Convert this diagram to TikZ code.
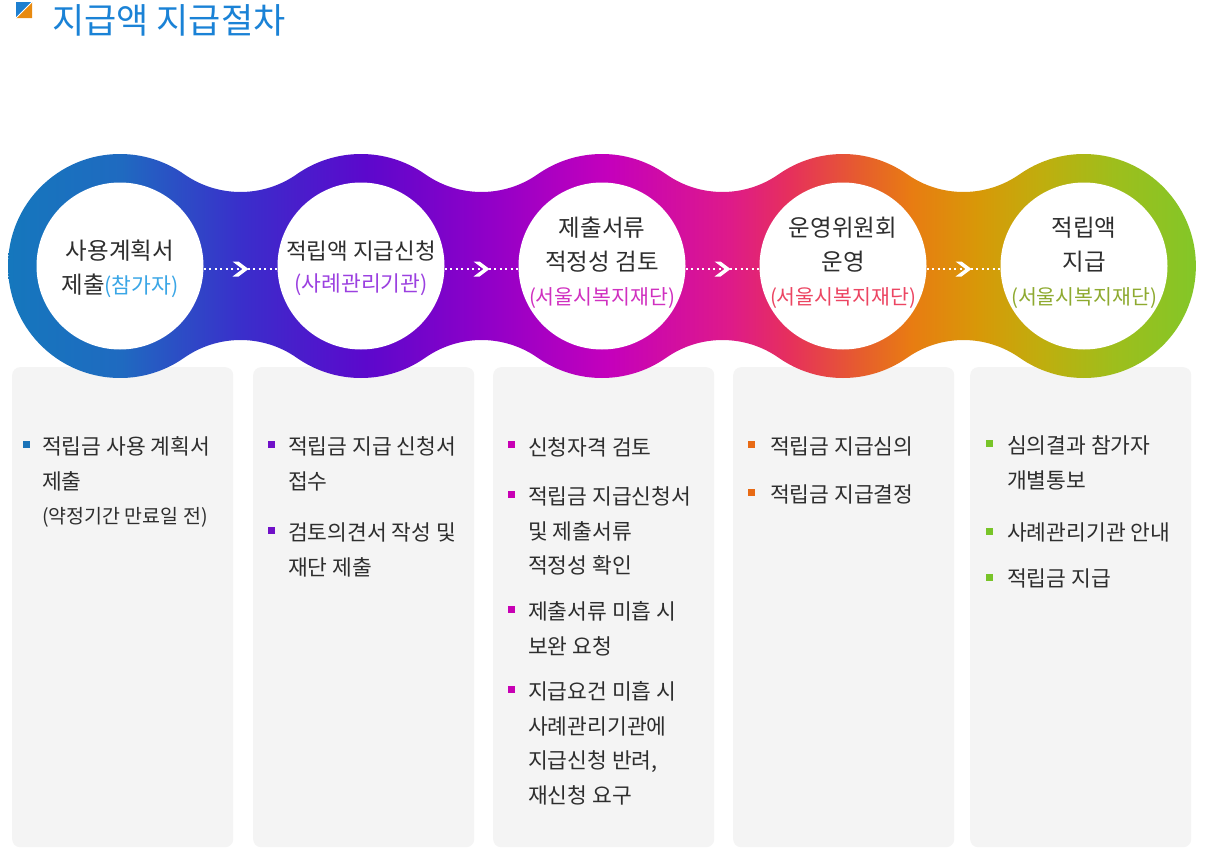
\documentclass[tikz,border=0pt]{standalone}
\usepackage{fontspec}
\newfontfamily\kr{Noto Sans CJK KR}
\definecolor{titleblue}{HTML}{1A82D6}
\definecolor{iconblue}{HTML}{1E7FD0}
\definecolor{iconorange}{HTML}{E88A10}
\definecolor{panelgray}{HTML}{F4F4F4}
\definecolor{txt}{HTML}{2E2E2E}
\definecolor{g0}{HTML}{1577BD}
\definecolor{g1}{HTML}{1F6AC0}
\definecolor{g2}{HTML}{3A2ECB}
\definecolor{g3}{HTML}{5C08CC}
\definecolor{g4}{HTML}{9000C8}
\definecolor{g5}{HTML}{C400BC}
\definecolor{g6}{HTML}{DE1A8A}
\definecolor{g7}{HTML}{E6305C}
\definecolor{g8}{HTML}{E65A30}
\definecolor{g9}{HTML}{E87C12}
\definecolor{g10}{HTML}{D89808}
\definecolor{g11}{HTML}{BFAE0E}
\definecolor{g12}{HTML}{9EBE1C}
\definecolor{g13}{HTML}{7EC82A}
\definecolor{par1}{HTML}{3AA6E6}
\definecolor{par2}{HTML}{9B40E0}
\definecolor{par3}{HTML}{D030C0}
\definecolor{par4}{HTML}{EC4562}
\definecolor{par5}{HTML}{8EAA30}
\definecolor{bul1}{HTML}{1A73B8}
\definecolor{bul2}{HTML}{7010C8}
\definecolor{bul3}{HTML}{C800B4}
\definecolor{bul4}{HTML}{E86A14}
\definecolor{bul5}{HTML}{78C428}
\pgfdeclarehorizontalshading{bandshade}{100bp}{color(0bp)=(g0); color(25bp)=(g0); color(29.7bp)=(g1); color(34.76bp)=(g2); color(39.9bp)=(g3); color(44.87bp)=(g4); color(49.92bp)=(g5); color(54.97bp)=(g6); color(57.5bp)=(g7); color(60.23bp)=(g8); color(62.54bp)=(g9); color(65.28bp)=(g10); color(68bp)=(g11); color(70.96bp)=(g12); color(75bp)=(g13); color(100bp)=(g13)}
\begin{document}
\begin{tikzpicture}[x=1pt,y=1pt,
  panel/.style={fill=panelgray, rounded corners=8pt, minimum width=221pt, minimum height=480pt, anchor=north west, inner sep=0pt},
  innercirc/.style={circle, fill=white, minimum size=167pt, inner sep=0pt},
  ctext/.style={align=center, text=txt, inner sep=0pt, font=\kr\fontsize{23.5}{34}\selectfont},
  dotline/.style={white, line width=2pt, dash pattern=on 2pt off 3.5pt},
  chev/.style={fill=white},
  bulletsq/.style={minimum size=7pt, inner sep=0pt},
  ptext/.style={align=left, anchor=base west, text=txt, inner sep=0pt, font=\kr\fontsize{21.5}{34.5}\selectfont}
]
\useasboundingbox (0,0) rectangle (1216,-854);
\fill[white] (0,0) rectangle (1216,-854);
% title
\fill[iconblue] (16,-2) -- (32,-2) -- (16,-18) -- cycle;
\fill[iconorange] (32,-2) -- (32,-18) -- (16,-18) -- cycle;
\draw[white, line width=1pt] (16,-18) -- (32,-2);
\node[anchor=west, inner sep=0pt, text=titleblue, font=\kr\fontsize{35}{35}\selectfont] (title) at (52,-20) {지급액 지급절차};
% panels
\node[panel] (p1) at (12,-367) {};
\node[panel] (p2) at (253,-367) {};
\node[panel] (p3) at (493,-367) {};
\node[panel] (p4) at (733,-367) {};
\node[panel] (p5) at (970,-367) {};
% gradient band
\shade[shading=bandshade] (8,-266)
  arc[start angle=180,end angle=55,radius=112]
  arc[start angle=235,end angle=305,radius=98.06]
  arc[start angle=125,end angle=55,radius=112]
  arc[start angle=235,end angle=305,radius=98.06]
  arc[start angle=125,end angle=55,radius=112]
  arc[start angle=235,end angle=305,radius=98.06]
  arc[start angle=125,end angle=55,radius=112]
  arc[start angle=235,end angle=305,radius=98.06]
  arc[start angle=125,end angle=-125,radius=112]
  arc[start angle=55,end angle=125,radius=98.06]
  arc[start angle=-55,end angle=-125,radius=112]
  arc[start angle=55,end angle=125,radius=98.06]
  arc[start angle=-55,end angle=-125,radius=112]
  arc[start angle=55,end angle=125,radius=98.06]
  arc[start angle=-55,end angle=-125,radius=112]
  arc[start angle=55,end angle=125,radius=98.06]
  arc[start angle=-55,end angle=-180,radius=112] -- cycle;
% inner circles
\node[innercirc] (c1) at (120,-266) {};
\node[innercirc] (c2) at (361,-266) {};
\node[innercirc] (c3) at (602,-266) {};
\node[innercirc] (c4) at (843,-266) {};
\node[innercirc] (c5) at (1084,-266) {};
% connectors
\draw[dotline] ([yshift=-3pt]c1.east) -- ([yshift=-3pt]c2.west) coordinate[midway] (m1);
\draw[dotline] ([yshift=-3pt]c2.east) -- ([yshift=-3pt]c3.west) coordinate[midway] (m2);
\draw[dotline] ([yshift=-3pt]c3.east) -- ([yshift=-3pt]c4.west) coordinate[midway] (m3);
\draw[dotline] ([yshift=-3pt]c4.east) -- ([yshift=-3pt]c5.west) coordinate[midway] (m4);
\foreach \m in {m1,m2,m3,m4}
  \fill[chev, shift={(\m)}] (-8,7.5) -- (-2,7.5) -- (8,0) -- (-2,-7.5) -- (-8,-7.5) -- (2,0) -- cycle;
% circle texts
\node[ctext] (t1) at ([yshift=-3pt]c1.center) {사용계획서\\제출{\color{par1}\fontsize{21.5}{34}\selectfont(참가자)}};
\node[ctext, font=\kr\fontsize{22.5}{32}\selectfont] (t2) at ([yshift=-2pt]c2.center) {적립액 지급신청\\{\color{par2}\fontsize{21.5}{32}\selectfont(사례관리기관)}};
\node[ctext] (t3) at ([yshift=3pt]c3.center) {제출서류\\적정성 검토\\{\color{par3}\fontsize{20.5}{34}\selectfont(서울시복지재단)}};
\node[ctext] (t4) at ([yshift=3pt]c4.center) {운영위원회\\운영\\{\color{par4}\fontsize{20.5}{34}\selectfont(서울시복지재단)}};
\node[ctext] (t5) at ([yshift=3pt]c5.center) {적립액\\지급\\{\color{par5}\fontsize{20.5}{34}\selectfont(서울시복지재단)}};
% panel 1
\node[bulletsq, fill=bul1] (b11) at (26.5,-444) {};
\node[ptext] (i11) at (42,-523.7) {적립금 사용 계획서\\제출\\{\fontsize{19.5}{34.5}\selectfont(약정기간 만료일 전)}};
% panel 2
\node[bulletsq, fill=bul2] (b21) at (271,-444) {};
\node[ptext] (i21) at (288,-489.2) {적립금 지급 신청서\\접수};
\node[bulletsq, fill=bul2] (b22) at (271,-530) {};
\node[ptext] (i22) at (288,-575.2) {검토의견서 작성 및\\재단 제출};
% panel 3
\node[bulletsq, fill=bul3] (b31) at (511,-444) {};
\node[ptext] (i31) at (528,-455.7) {신청자격 검토};
\node[bulletsq, fill=bul3] (b32) at (511,-494) {};
\node[ptext] (i32) at (528,-573.7) {적립금 지급신청서\\및 제출서류\\적정성 확인};
\node[bulletsq, fill=bul3] (b33) at (511,-609) {};
\node[ptext] (i33) at (528,-654.2) {제출서류 미흡 시\\보완 요청};
\node[bulletsq, fill=bul3] (b34) at (511,-689) {};
\node[ptext] (i34) at (528,-803.2) {지급요건 미흡 시\\사례관리기관에\\지급신청 반려,\\재신청 요구};
% panel 4
\node[bulletsq, fill=bul4] (b41) at (751.5,-444) {};
\node[ptext] (i41) at (770,-454.7) {적립금 지급심의};
\node[bulletsq, fill=bul4] (b42) at (751.5,-492) {};
\node[ptext] (i42) at (770,-502.7) {적립금 지급결정};
% panel 5
\node[bulletsq, fill=bul5] (b51) at (989,-443) {};
\node[ptext] (i51) at (1007,-488.2) {심의결과 참가자\\개별통보};
\node[bulletsq, fill=bul5] (b52) at (989,-531) {};
\node[ptext] (i52) at (1007,-540.7) {사례관리기관 안내};
\node[bulletsq, fill=bul5] (b53) at (989,-577) {};
\node[ptext] (i53) at (1007,-586.7) {적립금 지급};
\end{tikzpicture}
\end{document}
